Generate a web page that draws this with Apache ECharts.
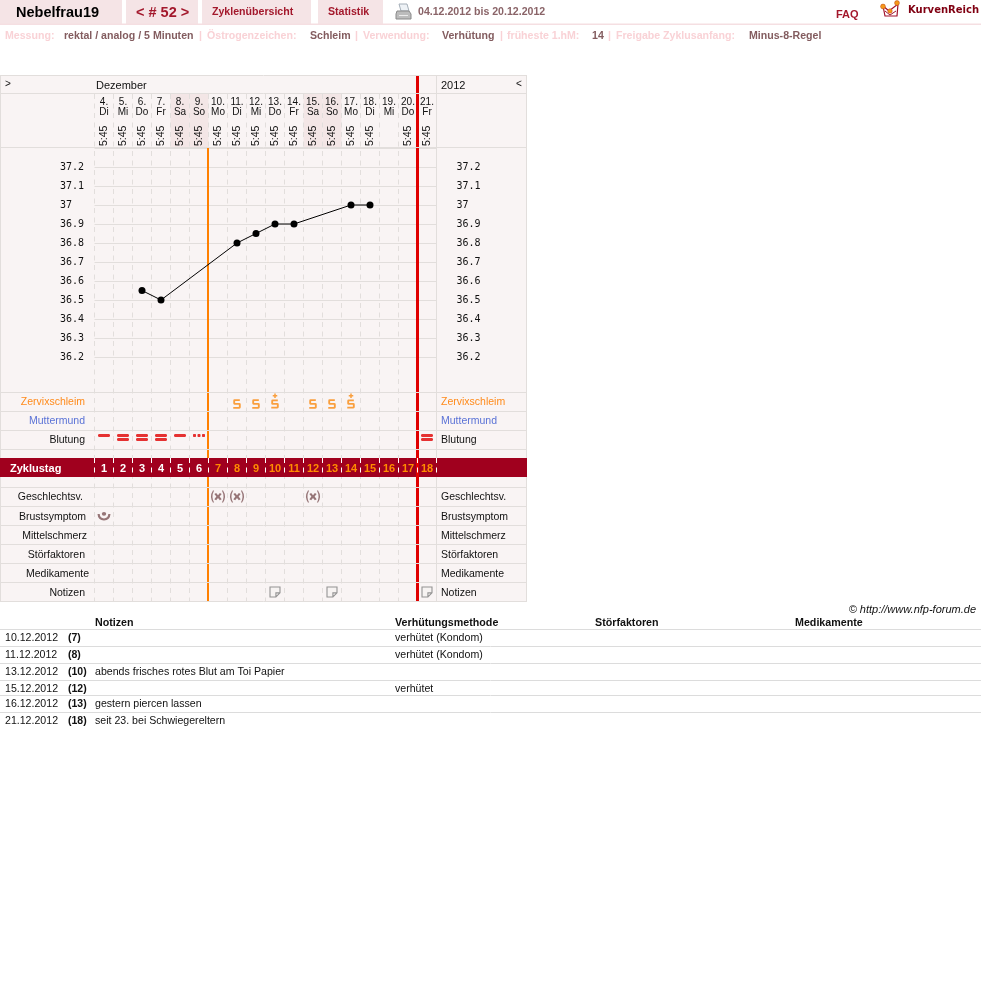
<!DOCTYPE html>
<html><head><meta charset="utf-8">
<style>html,body{margin:0;padding:0;background:#fff}#c{width:981px;height:981px}</style>
<script src="https://cdn.jsdelivr.net/npm/echarts@6/dist/echarts.min.js"></script>
</head><body><div id="c"></div>
<script>
// ---------- data ----------
const days = ['4.','5.','6.','7.','8.','9.','10.','11.','12.','13.','14.','15.','16.','17.','18.','19.','20.','21.'];
const weekdays = ['Di','Mi','Do','Fr','Sa','So','Mo','Di','Mi','Do','Fr','Sa','So','Mo','Di','Mi','Do','Fr'];
const times = ['5:45','5:45','5:45','5:45','5:45','5:45','5:45','5:45','5:45','5:45','5:45','5:45','5:45','5:45','5:45','','5:45','5:45'];
const cycleDays = ['1','2','3','4','5','6','7','8','9','10','11','12','13','14','15','16','17','18'];
const temps = [null,null,36.55,36.5,null,null,null,36.8,36.85,36.9,36.9,null,null,37,37,null,null,null];
const tempTicks = ['37.2','37.1','37','36.9','36.8','36.7','36.6','36.5','36.4','36.3','36.2'];
const mucus = ['','','','','','','','S','S','S+','','S','S','S+','','','',''];
const bleeding = ['one','two','two','two','one','dots','','','','','','','','','','','','two'];
const intercourse = [0,0,0,0,0,0,1,1,0,0,0,1,0,0,0,0,0,0];
const breast = [1,0,0,0,0,0,0,0,0,0,0,0,0,0,0,0,0,0];
const notes = [0,0,0,0,0,0,0,0,0,1,0,0,1,0,0,0,0,1];
const rowsTop = ['Zervixschleim','Muttermund','Blutung'];
const rowsBottom = ['Geschlechtsv.','Brustsymptom','Mittelschmerz','Störfaktoren','Medikamente','Notizen'];
const fertileStart = [6];
const cycleEnd = [17];
const noteDates = ['10.12.2012','11.12.2012','13.12.2012','15.12.2012','16.12.2012','21.12.2012'];
const noteDays = ['(7)','(8)','(10)','(12)','(13)','(18)'];
const noteTexts = ['','','abends frisches rotes Blut am Toi Papier','','gestern piercen lassen','seit 23. bei Schwiegereltern'];
const noteMethods = ['verhütet (Kondom)','verhütet (Kondom)','','verhütet','',''];
const noteHeads = ['Notizen','Verhütungsmethode','Störfaktoren','Medikamente'];

// ---------- styling ----------
const F = '"Liberation Sans",Arial,sans-serif';
const LINE = '#e2dedc', BG = '#f9f4f4', DARK = '#a0001e', ORANGE = '#ff8000', RED = '#e00000', BROWN = '#7d5558';
const GL = 94, CL = 94.5, GW = 342;
const sPath = 'M1.4 6H7V7.7H2V9.6H6.4Q8 9.6 8 11V13.6Q8 15 6.4 15H0V13.3H6V11.3H1.4Q0 11.3 0 9.9V7.4Q0 6 1.4 6Z';
const P = {
  S:'path://'+sPath,
  'S+':'path://M3.2 0H4.8V1.6H6.4V3H4.8V4.6H3.2V3H1.6V1.6H3.2Z'+sPath,
  one:'path://M0 .7L1 0H11L12 .7V2.3L11 3H1L0 2.3Z',
  two:'path://M0 .7L1 0H11L12 .7V2.3L11 3H1L0 2.3ZM0 4.7L1 4H11L12 4.7V6.3L11 7H1L0 6.3Z',
  dots:'path://M.6 0H2.4L3 .6V2.4L2.4 3H.6L0 2.4V.6ZM5.1 0H6.9L7.5 .6V2.4L6.9 3H5.1L4.5 2.4V.6ZM9.6 0H11.4L12 .6V2.4L11.4 3H9.6L9 2.4V.6Z',
  x:'path://M2.6 0Q-.8 6 2.6 12H3.6Q.8 6 3.6 0ZM11.4 0H10.4Q13.2 6 10.4 12H11.4Q14.8 6 11.4 0ZM3.8 3.4L5.4 2.4L7 4.6L8.6 2.4L10.2 3.4L8.4 6L10.2 8.6L8.6 9.6L7 7.4L5.4 9.6L3.8 8.6L5.6 6Z',
  smile:'path://M4.3 2.2A2.2 2.2 0 1 1 8.7 2.2A2.2 2.2 0 1 1 4.3 2.2ZM0 2.5H2.2Q2.6 7.5 6.5 7.5Q10.4 7.5 10.8 2.5H13Q12.6 9.8 6.5 9.8Q.4 9.8 0 2.5Z',
  note:'path://M0 0H11V6.5L6.5 11H0ZM6.5 11V6.5H11'
};
const size = {S:[7.5,9.5],'S+':[7.5,15],one:[12,3],two:[12,7],dots:[12,3],x:[14,12],smile:[13,8.5],note:[10,10]};
const off = {S:[0,2.5],'S+':[0,-.5],one:[0,-4],two:[0,-2],dots:[0,-4],x:[0,0],smile:[0,.5],note:[0,0]};
const marks = (arr,row,key) => arr.map((m,i)=>m?{value:[i,row],symbol:P[key||m],symbolSize:size[key||m],symbolOffset:off[key||m]}:null).filter(Boolean);

const rowPad = {'Zervixschleim':[9,'#ff8a1a'],'Muttermund':[9,'#5a72d6'],'Blutung':[9,'#111'],
 'Geschlechtsv.':[11,'#111'],'Brustsymptom':[8,'#111'],'Mittelschmerz':[7,'#111'],'Störfaktoren':[9,'#111'],'Medikamente':[5,'#111'],'Notizen':[9,'#111']};
const rich = {}, richR = {};
Object.keys(rowPad).forEach((k,i)=>{
  rich['r'+i]={padding:[2,rowPad[k][0]-5,0,0],color:rowPad[k][1],fontFamily:F,fontSize:10.5};
  richR['r'+i]={padding:[2,0,0,0],color:rowPad[k][1],fontFamily:F,fontSize:10.5};
});
const rowLabel = v => `{r${Object.keys(rowPad).indexOf(v)}|${v}}`;

// ---------- furniture ----------
const g = [];
const R = (x,y,w,h,fill,z) => g.push({type:'rect',shape:{x,y,width:w,height:h},style:{fill},z:z===undefined?-10:z,silent:true});
const L = (x1,y1,x2,y2,c,z,w) => g.push({type:'line',shape:{x1,y1,x2,y2},style:{stroke:c,lineWidth:w||1},z:z===undefined?4:z,silent:true});
const T = (x,y,text,fill,font,align) => g.push({type:'text',z:6,silent:true,style:{x,y,text,fill,font:font||`11px ${F}`,textAlign:align||'left',textVerticalAlign:'middle'}});
const B = `bold 10.6px ${F}`;

// top bar
R(0,0,122,24,'#f5e4e6'); R(126,0,72,24,'#f5e4e6'); R(202,0,109,24,'#f5e4e6'); R(318,0,65,24,'#f5e4e6');
R(0,23.5,981,1.5,'#f5dfe2');
T(16,13,'Nebelfrau19','#000',`bold 14.5px ${F}`);
T(136,13,'< # 52 >','#a3182c',`bold 14.5px ${F}`);
T(212,12.5,'Zyklenübersicht','#a3182c',B);
T(328,12.5,'Statistik','#a3182c',B);
T(418,12.5,'04.12.2012 bis 20.12.2012','#8a6468',B);
T(836,14.5,'FAQ','#a3182c',`bold 11px ${F}`);
T(908,10.5,'KurvenReich','#800012',`bold 10px "DejaVu Sans",${F}`);
// printer icon
g.push({type:'polygon',shape:{points:[[399,4],[407,4],[409,11],[401,11]]},style:{fill:'#eef2f6',stroke:'#a4aeb8',lineWidth:1},z:5,silent:true});
g.push({type:'polygon',shape:{points:[[397,11],[409,11],[411,14],[411,19],[396,19],[396,14]]},style:{fill:'#bcbcbc',stroke:'#8a8a8a',lineWidth:1},z:5,silent:true});
R(399,15,9,1,'#ececec',6);
// logo
g.push({type:'polyline',shape:{points:[[883,6],[889,11],[898,4],[897,16],[885,16],[883,6]]},style:{fill:'none',stroke:'#a0102a',lineWidth:1.2},z:5,silent:true});
g.push({type:'polyline',shape:{points:[[885,11],[890,15],[896,11]]},style:{fill:'none',stroke:'#a0102a',lineWidth:1},z:5,silent:true});
[[883,6.5,2.4],[890,11,2.2],[897,3,2.4]].forEach(c=>g.push({type:'circle',shape:{cx:c[0],cy:c[1],r:c[2]},style:{fill:'#f59a1a',stroke:'#c8501a',lineWidth:.6},z:6,silent:true}));

// info line
const pale='#f9d2d6', val='#835c5f';
[[5,'Messung:',pale],[64,'rektal / analog / 5 Minuten',val],[199,'|',pale],[207,'Östrogenzeichen:',pale],[310,'Schleim',val],[355,'|',pale],[363,'Verwendung:',pale],[442,'Verhütung',val],[500,'|',pale],[507,'früheste 1.hM:',pale],[592,'14',val],[608,'|',pale],[616,'Freigabe Zyklusanfang:',pale],[749,'Minus-8-Regel',val]]
 .forEach(a=>T(a[0],36.5,a[1],a[2],B));

// table
R(0,76,527,526,BG);
[0.5,526.5,436.5].forEach(x=>L(x,76,x,602,LINE,.5));
[75.5,93.5,147.5,392.5,411.5,430.5,449.5,487.5,506.5,525.5,544.5,563.5,582.5,601.5].forEach(y=>L(0,y,527,y,LINE,4));
R(0,458,527,19,DARK,2);
T(5,84,'>','#111',`10px ${F}`); T(96,85.5,'Dezember','#111',`11px ${F}`);
T(441,85.5,'2012','#111',`11px ${F}`); T(516,84,'<','#111',`10px ${F}`);

// notes table
T(976,610,'© http://www.nfp-forum.de','#111',`italic 11px ${F}`,'right');
[95,395,595,795].forEach((x,i)=>T(x,623,noteHeads[i],'#111',`bold 10.7px ${F}`));
[629.5,646.5,663.5,680.5,695.5,712.5].forEach(y=>L(0,y,981,y,'#dcdcdc',1));
const rowY=[638,655,672,689,704,721];
const NF=`10.6px ${F}`;
noteDates.forEach((d,i)=>{
  T(5,rowY[i],d,'#111',NF); T(68,rowY[i],noteDays[i],'#111',`bold 10.5px ${F}`);
  if(noteTexts[i])T(95,rowY[i],noteTexts[i],'#111',NF);
  if(noteMethods[i])T(395,rowY[i],noteMethods[i],'#111',NF);
});

// ---------- chart ----------
const cat = (extra) => Object.assign({type:'category',data:days,boundaryGap:true,axisLine:{show:false},axisTick:{show:false},axisLabel:{show:false},splitLine:{show:false}},extra||{});
const hideVal = (extra) => Object.assign({type:'value',axisLine:{show:false},axisTick:{show:false},axisLabel:{show:false},splitLine:{show:false}},extra||{});
const rowCatL = (d,gi) => ({type:'category',gridIndex:gi,data:d,inverse:true,position:'left',axisLine:{show:false},axisTick:{show:false},splitLine:{show:false},
   axisLabel:{margin:5.5,formatter:rowLabel,rich,align:'right'}});
const rowCatR = (d,gi) => ({type:'category',gridIndex:gi,data:d,inverse:true,position:'right',axisLine:{show:false},axisTick:{show:false},splitLine:{show:false},
   axisLabel:{margin:4.5,formatter:rowLabel,rich:richR,align:'left'}});
const tempLabel = v => { const s=String(+v.toFixed(1)); return tempTicks.includes(s)?s:''; };
const tempFont = {fontFamily:'"DejaVu Sans Mono",monospace',fontSize:10,color:'#111',align:'left',showMinLabel:true,showMaxLabel:true,formatter:tempLabel};

const option = {
  animation:false,
  graphic:{elements:g},
  grid:[
    {left:CL,width:GW,top:148,height:209},           // 0 temperature
    {left:CL,width:GW,top:94,height:54},             // 1 header
    {left:CL,width:GW,top:392,height:57},            // 2 rows top
    {left:CL,width:GW,top:458,height:19},            // 3 band
    {left:CL,width:GW,top:487,height:114.5},         // 4 rows bottom
    {left:GL,width:GW,top:94,height:508},            // 5 dashes
    {left:GL,width:GW,top:148,height:454},           // 6 orange
    {left:CL,width:GW,top:76,height:526}             // 7 red
  ],
  xAxis:[
    cat({gridIndex:0}),
    cat({gridIndex:1,position:'top',axisLabel:{show:true,inside:true,margin:3,interval:0,fontFamily:F,fontSize:10,lineHeight:10,color:'#111',formatter:(v,i)=>v+'\n'+weekdays[i]}}),
    cat({gridIndex:1,position:'bottom',data:times.map((t,i)=>({value:t||' '})),axisLabel:{show:true,inside:true,rotate:90,margin:2,interval:0,fontFamily:F,fontSize:10.5,color:'#111'}}),
    cat({gridIndex:2}),
    cat({gridIndex:3,data:cycleDays,z:5,position:'bottom',splitLine:{show:true,interval:0,lineStyle:{color:'#fff',type:[5,4.5],width:1}},
       axisLabel:{show:true,inside:true,margin:3,interval:0,fontFamily:F,fontSize:11,fontWeight:'bold',color:(v,i)=>(+v<=6?'#fff':'#ff8c00')}}),
    cat({gridIndex:4}),
    hideVal({gridIndex:5,min:0,max:18,interval:1,splitLine:{show:true,lineStyle:{color:LINE,type:[5,4.5],width:1}}}),
    hideVal({gridIndex:6,min:0,max:18}),
    hideVal({gridIndex:7,min:0,max:18})
  ],
  yAxis:[
    {type:'value',gridIndex:0,min:36.2,max:37.3,interval:.1,position:'left',axisLine:{show:false},axisTick:{show:false},
      axisLabel:Object.assign({margin:34.5},tempFont),splitLine:{show:true,lineStyle:{color:LINE,width:1}}},
    {type:'value',gridIndex:0,min:36.2,max:37.3,interval:.1,position:'right',axisLine:{show:false},axisTick:{show:false},
      axisLabel:Object.assign({margin:20},tempFont),splitLine:{show:false}},
    hideVal({gridIndex:1,min:0,max:1}),
    rowCatL(rowsTop,2), rowCatR(rowsTop,2),
    {type:'category',gridIndex:3,data:['Zyklustag'],position:'left',z:5,axisLine:{show:false},axisTick:{show:false},
      axisLabel:{align:'left',margin:84.5,formatter:v=>`{z|${v}}`,rich:{z:{padding:[3,0,0,0],fontFamily:F,fontSize:11,fontWeight:'bold',color:'#fff'}}}},
    rowCatL(rowsBottom,4), rowCatR(rowsBottom,4),
    hideVal({gridIndex:5,min:0,max:1}),
    hideVal({gridIndex:6,min:0,max:1}),
    hideVal({gridIndex:7,min:0,max:1})
  ],
  series:[
    {type:'bar',xAxisIndex:1,yAxisIndex:2,z:-1,barWidth:'100%',silent:true,itemStyle:{color:'#f3e6e6'},
      data:weekdays.map(d=>(d==='Sa'||d==='So')?1:null)},
    {type:'line',xAxisIndex:7,yAxisIndex:9,z:1.5,silent:true,symbol:'none',lineStyle:{color:ORANGE,width:2},data:[[fertileStart[0],0],[fertileStart[0],1]]},
    {type:'line',xAxisIndex:8,yAxisIndex:10,z:3,silent:true,symbol:'none',lineStyle:{color:RED,width:3},data:[[cycleEnd[0],0],[cycleEnd[0],1]]},
    {type:'line',xAxisIndex:0,yAxisIndex:0,z:5,connectNulls:true,symbol:'circle',symbolSize:7,showAllSymbol:true,
      itemStyle:{color:'#000'},lineStyle:{color:'#000',width:1},data:temps},
    {type:'scatter',xAxisIndex:3,yAxisIndex:3,z:5,itemStyle:{color:'#f98a10'},data:marks(mucus,rowsTop[0])},
    {type:'scatter',xAxisIndex:3,yAxisIndex:3,z:5,itemStyle:{color:RED},data:marks(bleeding,rowsTop[2])},
    {type:'scatter',xAxisIndex:5,yAxisIndex:6,z:5,itemStyle:{color:BROWN},data:marks(intercourse,rowsBottom[0],'x')},
    {type:'scatter',xAxisIndex:5,yAxisIndex:6,z:5,itemStyle:{color:BROWN},data:marks(breast,rowsBottom[1],'smile')},
    {type:'scatter',xAxisIndex:5,yAxisIndex:6,z:5,itemStyle:{color:'#f6f3f1',borderColor:'#7c7c7c',borderWidth:1.1},data:marks(notes,rowsBottom[5],'note')}
  ]
};
const chart = echarts.init(document.getElementById('c'),null,{renderer:'canvas',width:981,height:981});
chart.setOption(option);
</script></body></html>
